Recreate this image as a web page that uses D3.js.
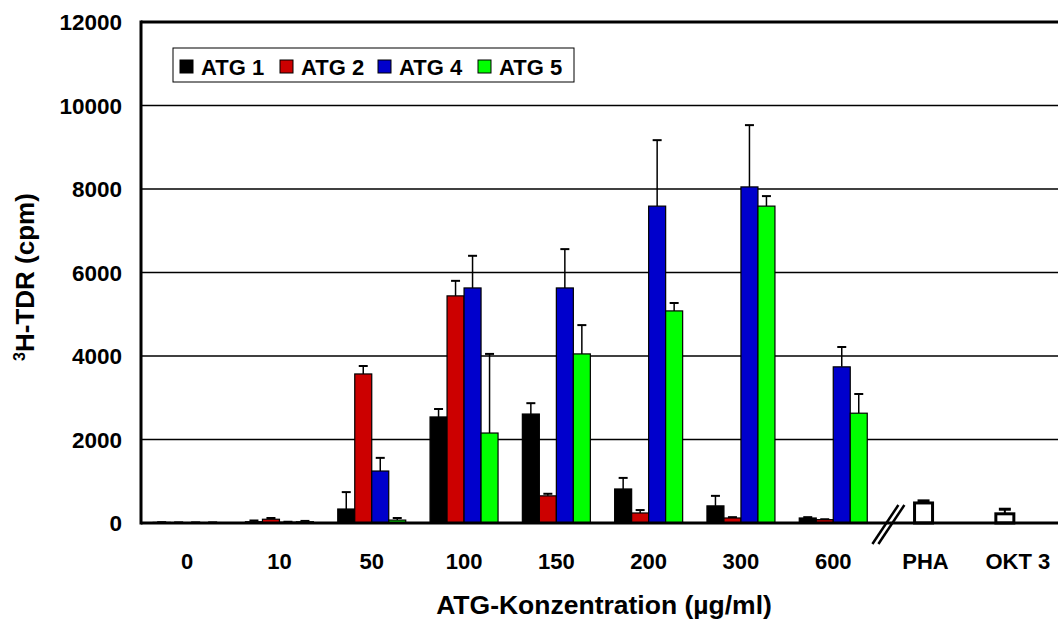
<!DOCTYPE html>
<html>
<head>
<meta charset="utf-8">
<script src="https://cdn.jsdelivr.net/npm/d3@7"></script>
<style>
  body { margin: 0; background: #fff; }
  text { font-family: "Liberation Sans", Arial, sans-serif; font-weight: bold; }
</style>
</head>
<body>
<div id="chart"></div>
<script>
// ATG concentrations + controls
const categories = ["0", "10", "50", "100", "150", "200", "300", "600", "PHA", "OKT 3"];
const doses = ["0", "10", "50", "100", "150", "200", "300", "600"];
const seriesNames = ["ATG 1", "ATG 2", "ATG 4", "ATG 5"];
const seriesColors = ["#000000", "#cc0000", "#0000cc", "#00ff00"];

// mean values per dose (cpm)
const atg1 = [15, 30, 335, 2540, 2610, 815, 410, 120];
const atg2 = [10, 90, 3570, 5440, 650, 240, 120, 80];
const atg4 = [10, 20, 1245, 5630, 5630, 7590, 8050, 3740];
const atg5 = [10, 30, 70, 2155, 4050, 5080, 7590, 2630];
// upper end of error bars
const atg1Err = [20, 60, 740, 2730, 2870, 1080, 650, 140];
const atg2Err = [15, 120, 3760, 5800, 700, 310, 140, 90];
const atg4Err = [15, 30, 1560, 6400, 6560, 9170, 9530, 4215];
const atg5Err = [15, 50, 120, 4050, 4740, 5270, 7830, 3090];

const controls = ["PHA", "OKT 3"];
const controlValues = [480, 220];
const controlErr = [530, 330];

const yTicks = [0, 2000, 4000, 6000, 8000, 10000, 12000];

const width = 1058, height = 623,
      margin = ({top: 22, right: -6, bottom: 100, left: 141});

const svg = d3.select("#chart")
    .append("svg")
    .attr("width", width)
    .attr("height", height);

const x = d3.scaleBand()
    .domain(categories)
    .range([margin.left, width - margin.right]);

const y = d3.scaleLinear()
    .domain([0, 12000])
    .range([height - margin.bottom, margin.top]);

const xs = d3.scaleBand()
    .domain(seriesNames)
    .range([0, 68]);

// gridlines
svg.append("g")
    .selectAll("line")
    .data(yTicks.filter(d => d > 0 && d < 12000))
    .join("line")
    .attr("x1", margin.left)
    .attr("x2", width)
    .attr("y1", d => y(d))
    .attr("y2", d => y(d))
    .attr("stroke", "#000")
    .attr("stroke-width", 1.5);

// top border
svg.append("line")
    .attr("x1", margin.left).attr("x2", width)
    .attr("y1", y(12000)).attr("y2", y(12000))
    .attr("stroke", "#000").attr("stroke-width", 3);

// y axis tick labels
svg.append("g")
    .selectAll("text")
    .data(yTicks)
    .join("text")
    .attr("x", 122)
    .attr("y", d => y(d))
    .attr("dy", "0.36em")
    .attr("text-anchor", "end")
    .attr("font-size", 22.5)
    .text(d => d);

// bars
const table = seriesNames.map((s, i) => ({
    name: s,
    color: seriesColors[i],
    values: [atg1, atg2, atg4, atg5][i],
    err: [atg1Err, atg2Err, atg4Err, atg5Err][i]
}));

const rows = [];
for (const s of table) {
    doses.forEach((d, j) => {
        rows.push({cat: d, series: s.name, color: s.color, value: s.values[j], err: s.err[j]});
    });
}

const groupOffset = (x.bandwidth() - 68) / 2;

const bar = svg.append("g")
    .selectAll("g")
    .data(rows)
    .join("g");

bar.append("line")
    .attr("x1", d => x(d.cat) + groupOffset + xs(d.series) + xs.bandwidth() / 2)
    .attr("x2", d => x(d.cat) + groupOffset + xs(d.series) + xs.bandwidth() / 2)
    .attr("y1", d => y(d.value))
    .attr("y2", d => y(d.err))
    .attr("stroke", "#000")
    .attr("stroke-width", 1.5);

bar.append("line")
    .attr("x1", d => x(d.cat) + groupOffset + xs(d.series) + xs.bandwidth() / 2 - 4.5)
    .attr("x2", d => x(d.cat) + groupOffset + xs(d.series) + xs.bandwidth() / 2 + 4.5)
    .attr("y1", d => y(d.err))
    .attr("y2", d => y(d.err))
    .attr("stroke", "#000")
    .attr("stroke-width", 2);

bar.append("rect")
    .attr("x", d => x(d.cat) + groupOffset + xs(d.series))
    .attr("width", xs.bandwidth())
    .attr("y", d => y(d.value))
    .attr("height", d => y(0) - y(d.value))
    .attr("fill", d => d.color)
    .attr("stroke", "#000")
    .attr("stroke-width", 1.2);

// control bars (white)
const ctrl = svg.append("g")
    .selectAll("g")
    .data(controls.map((c, i) => ({cat: c, value: controlValues[i], err: controlErr[i]})))
    .join("g");

const ctrlShift = {"PHA": -2, "OKT 3": -13};

ctrl.append("line")
    .attr("x1", d => x(d.cat) + x.bandwidth() / 2 + ctrlShift[d.cat])
    .attr("x2", d => x(d.cat) + x.bandwidth() / 2 + ctrlShift[d.cat])
    .attr("y1", d => y(d.value))
    .attr("y2", d => y(d.err))
    .attr("stroke", "#000").attr("stroke-width", 2);

ctrl.append("line")
    .attr("x1", d => x(d.cat) + x.bandwidth() / 2 + ctrlShift[d.cat] - 6)
    .attr("x2", d => x(d.cat) + x.bandwidth() / 2 + ctrlShift[d.cat] + 6)
    .attr("y1", d => y(d.err))
    .attr("y2", d => y(d.err))
    .attr("stroke", "#000").attr("stroke-width", 3);

ctrl.append("rect")
    .attr("x", d => x(d.cat) + x.bandwidth() / 2 + ctrlShift[d.cat] - 9)
    .attr("width", 18)
    .attr("y", d => y(d.value))
    .attr("height", d => y(0) - y(d.value))
    .attr("fill", "#fff")
    .attr("stroke", "#000")
    .attr("stroke-width", 3);

// axes lines
svg.append("line")
    .attr("x1", margin.left).attr("x2", margin.left)
    .attr("y1", y(12000) - 1.5).attr("y2", y(0) + 1.5)
    .attr("stroke", "#000").attr("stroke-width", 3);

svg.append("line")
    .attr("x1", margin.left).attr("x2", width)
    .attr("y1", y(0)).attr("y2", y(0))
    .attr("stroke", "#000").attr("stroke-width", 3);

// axis break marks between 600 and PHA
const bx = x("PHA") + 9;
[0, 6].forEach(off => {
    svg.append("line")
        .attr("x1", bx + off - 16).attr("y1", y(0) + 21)
        .attr("x2", bx + off + 10).attr("y2", y(0) - 18)
        .attr("stroke", "#000").attr("stroke-width", 2.5);
});

// x tick labels
svg.append("g")
    .selectAll("text")
    .data(categories)
    .join("text")
    .attr("x", d => x(d) + x.bandwidth() / 2)
    .attr("y", 569)
    .attr("text-anchor", "middle")
    .attr("font-size", 22)
    .text(d => d);

// axis titles
svg.append("text")
    .attr("x", 604)
    .attr("y", 614)
    .attr("text-anchor", "middle")
    .attr("font-size", 26.5)
    .text("ATG-Konzentration (µg/ml)");

const yt = svg.append("text")
    .attr("transform", "translate(34,277) rotate(-90)")
    .attr("text-anchor", "middle")
    .attr("font-size", 26);
yt.append("tspan").attr("font-size", 16).attr("dy", -9).text("3");
yt.append("tspan").attr("dy", 9).text("H-TDR (cpm)");

// legend
const legend = svg.append("g").attr("transform", "translate(173,48)");
legend.append("rect")
    .attr("width", 401).attr("height", 34)
    .attr("fill", "#fff")
    .attr("stroke", "#000").attr("stroke-width", 1);

const itemX = [7, 107, 205, 305];
const li = legend.selectAll("g.item")
    .data(table)
    .join("g")
    .attr("class", "item")
    .attr("transform", (d, i) => `translate(${itemX[i]},0)`);

li.append("rect")
    .attr("x", 0).attr("y", 12)
    .attr("width", 13).attr("height", 13)
    .attr("fill", d => d.color)
    .attr("stroke", "#000").attr("stroke-width", 1);

li.append("text")
    .attr("x", 21).attr("y", 27)
    .attr("font-size", 22)
    .text(d => d.name);
</script>
</body>
</html>
